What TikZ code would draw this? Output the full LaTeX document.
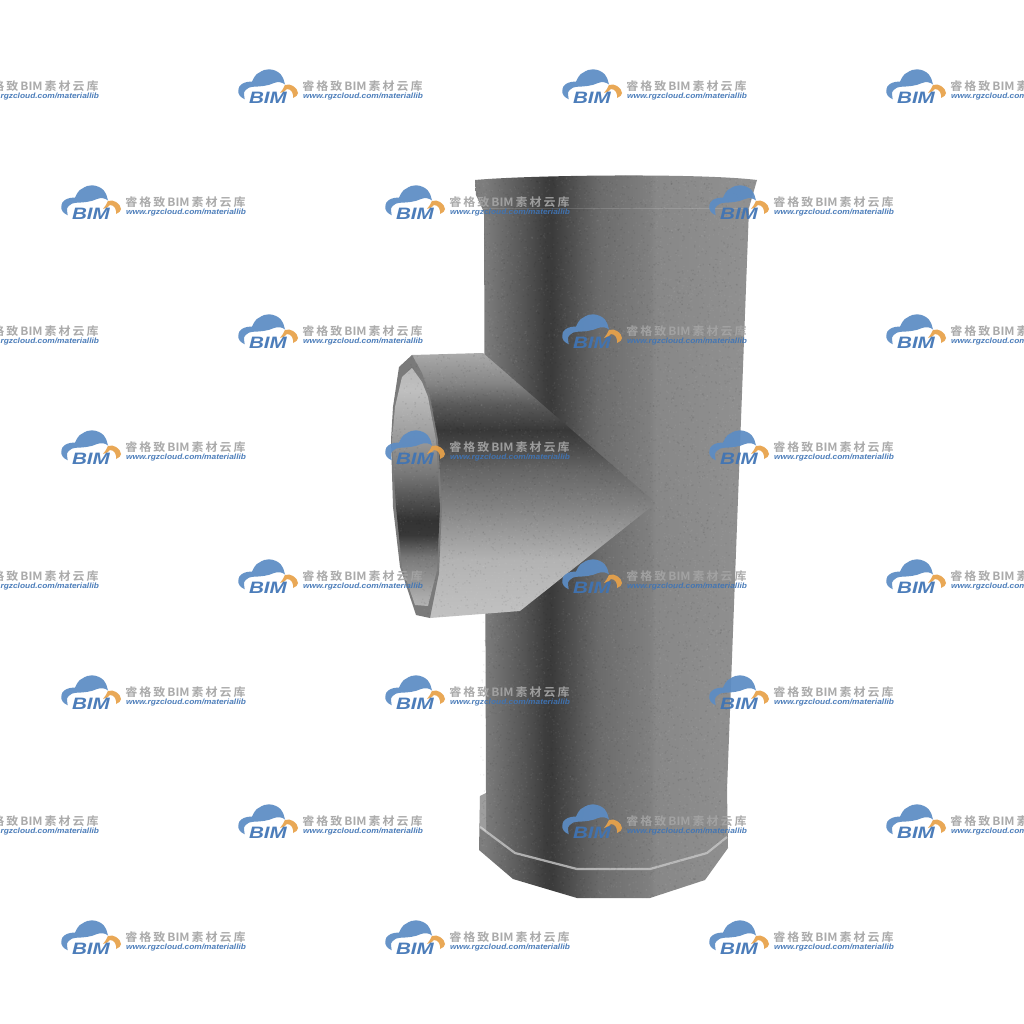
\documentclass[tikz,border=0pt]{standalone}
\usepackage{fontspec}
\setmainfont{Liberation Sans}
\newfontfamily\cjkf{Noto Sans CJK SC}[BoldFont={* Bold}]
\definecolor{wmblue}{HTML}{3F74B5}
\definecolor{wmcloud}{HTML}{5C8CC4}
\definecolor{wmorange}{HTML}{E8A24A}
\definecolor{wmgrey}{HTML}{A4A4A4}
% the path's box maps to 25bp..75bp of a shading
\pgfdeclarehorizontalshading{bodyshade}{100bp}{
 color(0bp)=(black!50); color(26.6bp)=(black!51); color(33bp)=(black!65); color(37.4bp)=(black!76);
 color(38.6bp)=(black!77); color(47bp)=(black!58); color(56bp)=(black!50);
 color(57bp)=(black!47); color(75bp)=(black!43); color(100bp)=(black!43)}
\pgfdeclareverticalshading{branchshade}{100bp}{
 color(0bp)=(black!24); color(25bp)=(black!24); color(36bp)=(black!30); color(46.7bp)=(black!50);
 color(52.9bp)=(black!60); color(57.6bp)=(black!72); color(60.5bp)=(black!78); color(65.2bp)=(black!65);
 color(69.3bp)=(black!48); color(75bp)=(black!33); color(100bp)=(black!33)}
\pgfdeclareverticalshading{holeshade}{100bp}{
 color(0bp)=(black!30); color(25bp)=(black!30); color(26.9bp)=(black!33); color(35.3bp)=(black!53);
 color(39.9bp)=(black!78); color(43bp)=(black!80); color(52.9bp)=(black!53); color(59.9bp)=(black!40);
 color(70.4bp)=(black!25); color(75bp)=(black!28); color(100bp)=(black!28)}
\tikzset{
 x=1pt,y=-1pt,
 edgeline/.style={draw=black!22,line width=2.2pt,line join=round},
 wmzh/.style={anchor=base,inner sep=0,text=wmgrey,xscale=1.05,font=\cjkf\bfseries\fontsize{11.4}{12}\selectfont},
 wmurl/.style={anchor=base,inner sep=0,text=wmblue,xscale=1.1,font=\bfseries\itshape\fontsize{7.6}{8}\selectfont},
 wmbim/.style={anchor=base,inner sep=0,text=wmblue,xscale=1.25,font=\bfseries\itshape\fontsize{16.5}{18}\selectfont}
}
\newcommand{\wmark}[2]{%
 \begin{scope}[shift={(#1,#2)},opacity=.93]
  \fill[wmcloud] (6.7,9.3) .. controls (2,7) and (0,4) .. (0.3,1)
   .. controls (0.5,-3) and (2,-5) .. (4,-6)
   .. controls (7,-8) and (11,-8.5) .. (14,-8.3)
   .. controls (16,-13) and (18,-16) .. (21,-17.3)
   .. controls (25,-20) and (28,-20.7) .. (31,-20.7)
   .. controls (36,-20.5) and (40,-18.5) .. (42.7,-15.7)
   .. controls (45,-12.5) and (46.5,-9) .. (47,-5.5)
   .. controls (44,-8) and (40,-8.5) .. (36,-7)
   .. controls (30,-4) and (22,-3.5) .. (16,-3.3)
   .. controls (12,-3) and (9,-2) .. (7.7,0)
   .. controls (6,2) and (5.5,3) .. (6,4.3)
   -- cycle;
  \fill[wmorange] (42,3) .. controls (44,1) and (45.5,-2) .. (47,-5)
   .. controls (50,-6) and (53,-5.5) .. (55,-4)
   .. controls (58,-2) and (60,0.5) .. (60,3)
   .. controls (60,5) and (58,7) .. (55,8)
   .. controls (55.5,6) and (55,4) .. (54,2)
   .. controls (53,0) and (51,-1) .. (49,-1)
   .. controls (47.5,1) and (45,2.5) .. (42,3) -- cycle;
  \node[wmbim] (bim#1x#2) at (30,13.3) {BIM};
  \node[wmzh] (zh#1x#2) at (124.5,0.5) {睿\,格\,致\,BIM\,素\,材\,云\,库};
  \node[wmurl] (url#1x#2) at (125,8.5) {www.rgzcloud.com/materiallib};
 \end{scope}}
\begin{document}
\begin{tikzpicture}
\useasboundingbox (0,0) rectangle (1024,1024);
\clip (0,0) rectangle (1024,1024);
\fill[white] (0,0) rectangle (1024,1024);
% main body
\shade[shading=bodyshade] (475,180) .. controls (530,175) and (700,173) .. (757,180)
 -- (749,208) -- (727,790) -- (728,848) -- (705,880) -- (650,898) -- (577,898) -- (513,879)
 -- (479,850) -- (480,796) -- (486,793) -- (484,215) -- (483,210) -- (476,195) -- cycle;
% collar line
\draw[white,opacity=.14,line width=.8pt] (483,208) -- (749,208);
% flange highlight
\draw[edgeline,opacity=.8] (480,827) -- (515,853) -- (577,869) -- (650,869) -- (707,853) -- (727,837);
\fill[white,opacity=.25] (480,796) -- (486,793) -- (486,832) -- (480,827) -- cycle;
% branch
\shade[shading=branchshade] (412,355) -- (483,353) -- (656,503) -- (520,611) -- (430,618) -- cycle;
\fill[black!52] (412,355) -- (399,367) -- (393,407) -- (391,440) -- (393,507) -- (400,567) -- (416,615) -- (430,618)
 -- (439,573) -- (442,507) -- (438,440) -- (430,397) -- (422,373) -- cycle;
\shade[shading=holeshade] (412,368) -- (402,377) -- (395,407) -- (392,440) -- (396,507) -- (402,567) -- (415,605)
 -- (428,606) -- (437,570) -- (440,507) -- (436,440) -- (428,397) -- (422,382) -- cycle;
% grain
\begin{scope}
 \clip (475,180) .. controls (530,175) and (700,173) .. (757,180)
 -- (749,208) -- (727,790) -- (728,848) -- (705,880) -- (650,898) -- (577,898) -- (513,879)
 -- (479,850) -- (480,796) -- (484,215) -- (476,195) -- (475,180)
 (412,355) -- (484,353) -- (520,611) -- (430,618) -- (416,615) -- (400,567) -- (391,440) -- cycle;
 \pgfmathsetseed{7}
 \foreach \j in {1,...,50} {
 \fill[white,opacity=.05] \foreach \i in {1,...,150} {(390+rnd*370,175+rnd*725) rectangle +(1.3,1.3)};
 \fill[black,opacity=.06] \foreach \i in {1,...,150} {(390+rnd*370,175+rnd*725) rectangle +(1.3,1.3)};
 }
\end{scope}
% watermarks
\foreach \wy in {90,335,580,825} {\foreach \wx in {-86,238,562,886} {\wmark{\wx}{\wy}}}
\foreach \wy in {206,451,696,941} {\foreach \wx in {61,385,709} {\wmark{\wx}{\wy}}}
\end{tikzpicture}
\end{document}
